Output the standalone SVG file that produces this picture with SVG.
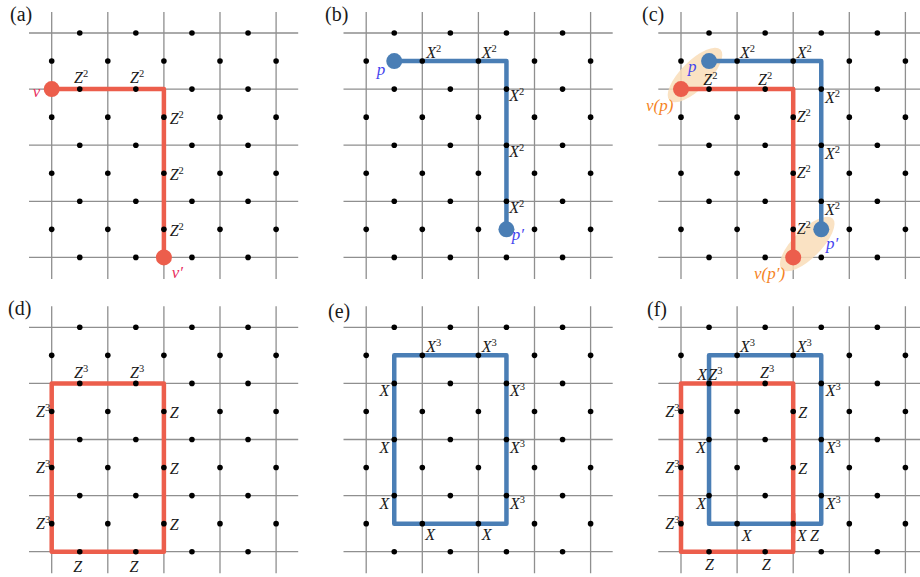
<svg xmlns="http://www.w3.org/2000/svg" width="920" height="577" viewBox="0 0 920 577" font-family="Liberation Serif, DejaVu Serif, serif">
<style>
.g{stroke:#8f8f8f;stroke-width:1.3;fill:none}
.r{stroke:#EC5E4C;stroke-width:4.5;fill:none;stroke-linejoin:round}
.b{stroke:#4A7EB5;stroke-width:4.5;fill:none;stroke-linejoin:round}
.rc{fill:#EC5E4C}
.bc{fill:#4A7EB5}
.dt{fill:#000}
.m{font-style:italic;font-size:16px;fill:#1a1a1a}
.s{font-style:normal;font-size:10.5px}
.pl{font-size:20px;fill:#1a1a1a}
.lv{font-style:italic;font-size:17px;fill:#E8305E}
.lp{font-style:italic;font-size:17px;fill:#4545EE}
.lo{font-style:italic;font-size:17px;fill:#F5841F}
.el{fill:#F9DDB8;opacity:0.85}
.e{text-anchor:end}
</style>
<defs>
<path id="grid" class="g" d="M-22.7 0H246.5M-22.7 56.1H246.5M-22.7 112.2H246.5M-22.7 168.3H246.5M-22.7 224.4H246.5M0 -21V246M56.1 -21V246M112.2 -21V246M168.3 -21V246M224.4 -21V246"/>
<g id="dots" class="dt">
<circle cx="28.05" cy="0" r="2.8"/><circle cx="84.15" cy="0" r="2.8"/><circle cx="140.25" cy="0" r="2.8"/><circle cx="196.35" cy="0" r="2.8"/>
<circle cx="28.05" cy="56.1" r="2.8"/><circle cx="84.15" cy="56.1" r="2.8"/><circle cx="140.25" cy="56.1" r="2.8"/><circle cx="196.35" cy="56.1" r="2.8"/>
<circle cx="28.05" cy="112.2" r="2.8"/><circle cx="84.15" cy="112.2" r="2.8"/><circle cx="140.25" cy="112.2" r="2.8"/><circle cx="196.35" cy="112.2" r="2.8"/>
<circle cx="28.05" cy="168.3" r="2.8"/><circle cx="84.15" cy="168.3" r="2.8"/><circle cx="140.25" cy="168.3" r="2.8"/><circle cx="196.35" cy="168.3" r="2.8"/>
<circle cx="28.05" cy="224.4" r="2.8"/><circle cx="84.15" cy="224.4" r="2.8"/><circle cx="140.25" cy="224.4" r="2.8"/><circle cx="196.35" cy="224.4" r="2.8"/>
<circle cx="0" cy="28.05" r="2.8"/><circle cx="56.1" cy="28.05" r="2.8"/><circle cx="112.2" cy="28.05" r="2.8"/><circle cx="168.3" cy="28.05" r="2.8"/><circle cx="224.4" cy="28.05" r="2.8"/>
<circle cx="0" cy="84.15" r="2.8"/><circle cx="56.1" cy="84.15" r="2.8"/><circle cx="112.2" cy="84.15" r="2.8"/><circle cx="168.3" cy="84.15" r="2.8"/><circle cx="224.4" cy="84.15" r="2.8"/>
<circle cx="0" cy="140.25" r="2.8"/><circle cx="56.1" cy="140.25" r="2.8"/><circle cx="112.2" cy="140.25" r="2.8"/><circle cx="168.3" cy="140.25" r="2.8"/><circle cx="224.4" cy="140.25" r="2.8"/>
<circle cx="0" cy="196.35" r="2.8"/><circle cx="56.1" cy="196.35" r="2.8"/><circle cx="112.2" cy="196.35" r="2.8"/><circle cx="168.3" cy="196.35" r="2.8"/><circle cx="224.4" cy="196.35" r="2.8"/>
</g>
</defs>

<g id="panel-labels">
<text class="pl" x="10" y="21">(a)</text>
<text class="pl" x="325" y="21">(b)</text>
<text class="pl" x="642" y="21">(c)</text>
<text class="pl" x="8" y="315">(d)</text>
<text class="pl" x="328" y="318">(e)</text>
<text class="pl" x="647" y="316">(f)</text>
</g>

<g id="panel-a" transform="translate(51.7,33)">
<use href="#grid"/>
<g id="conn-a"><path class="r" d="M0 56.1H112.2V224.4"/></g>
<use href="#dots"/>
<g id="node-v"><circle class="rc" cx="0" cy="56.1" r="8"/><text class="lv" x="-19" y="64">v</text></g>
<g id="node-v2"><circle class="rc" cx="112.2" cy="224.4" r="8"/><text class="lv" x="120" y="245">v′</text></g>
<g>
<text class="m" x="22.3" y="50">Z<tspan class="s" dy="-6">2</tspan></text>
<text class="m" x="78.4" y="50">Z<tspan class="s" dy="-6">2</tspan></text>
<text class="m" x="118" y="91">Z<tspan class="s" dy="-6">2</tspan></text>
<text class="m" x="118" y="147">Z<tspan class="s" dy="-6">2</tspan></text>
<text class="m" x="118" y="203">Z<tspan class="s" dy="-6">2</tspan></text>
</g>
</g>

<g id="panel-b" transform="translate(366.2,33)">
<use href="#grid"/>
<g id="conn-b"><path class="b" d="M28.05 28.05H140.25V196.35"/></g>
<use href="#dots"/>
<g id="node-p"><circle class="bc" cx="28.05" cy="28.05" r="8"/><text class="lp" x="10.5" y="42">p</text></g>
<g id="node-p2"><circle class="bc" cx="140.25" cy="196.35" r="8"/><text class="lp" x="145.5" y="207">p′</text></g>
<g>
<text class="m" x="60" y="24.5">X<tspan class="s" dy="-6">2</tspan></text>
<text class="m" x="115.5" y="24.5">X<tspan class="s" dy="-6">2</tspan></text>
<text class="m" x="143" y="68">X<tspan class="s" dy="-6">2</tspan></text>
<text class="m" x="143" y="124">X<tspan class="s" dy="-6">2</tspan></text>
<text class="m" x="143" y="180">X<tspan class="s" dy="-6">2</tspan></text>
</g>
</g>

<g id="panel-c" transform="translate(681,33)">
<use href="#grid"/>
<ellipse class="el" cx="14" cy="42" rx="36" ry="14" transform="rotate(-45 14 42)"/>
<ellipse class="el" cx="126.2" cy="211" rx="36" ry="14" transform="rotate(-45 126.2 211)"/>
<g id="conn-c">
<path class="r" d="M0 56.1H112.2V224.4"/>
<path class="b" d="M28.05 28.05H140.25V196.35"/>
</g>
<use href="#dots"/>
<g id="node-vp"><circle class="rc" cx="0" cy="56.1" r="8"/><text class="lo" x="-35" y="78">v(p)</text></g>
<g id="node-vp2"><circle class="rc" cx="112.2" cy="224.4" r="8"/><text class="lo" x="73" y="246">v(p′)</text></g>
<g id="node-pc"><circle class="bc" cx="28.05" cy="28.05" r="8"/><text class="lp" x="7" y="39">p</text></g>
<g id="node-pc2"><circle class="bc" cx="140.25" cy="196.35" r="8"/><text class="lp" x="145" y="216">p′</text></g>
<g>
<text class="m" x="22.3" y="52">Z<tspan class="s" dy="-6">2</tspan></text>
<text class="m" x="77" y="52">Z<tspan class="s" dy="-6">2</tspan></text>
<text class="m" x="115.7" y="89">Z<tspan class="s" dy="-6">2</tspan></text>
<text class="m" x="115.7" y="145">Z<tspan class="s" dy="-6">2</tspan></text>
<text class="m" x="115.7" y="201">Z<tspan class="s" dy="-6">2</tspan></text>
<text class="m" x="59" y="25">X<tspan class="s" dy="-6">2</tspan></text>
<text class="m" x="115.7" y="25">X<tspan class="s" dy="-6">2</tspan></text>
<text class="m" x="144" y="70">X<tspan class="s" dy="-6">2</tspan></text>
<text class="m" x="144" y="126">X<tspan class="s" dy="-6">2</tspan></text>
<text class="m" x="144" y="182">X<tspan class="s" dy="-6">2</tspan></text>
</g>
</g>

<g id="panel-d" transform="translate(51.7,327.3)">
<use href="#grid"/>
<g id="conn-d"><rect class="r" x="0" y="56.1" width="112.2" height="168.3"/></g>
<use href="#dots"/>
<g>
<text class="m" x="22.3" y="51">Z<tspan class="s" dy="-6">3</tspan></text>
<text class="m" x="78.4" y="51">Z<tspan class="s" dy="-6">3</tspan></text>
<text class="m e" x="-1.5" y="90">Z<tspan class="s" dy="-6">3</tspan></text>
<text class="m e" x="-1.5" y="146">Z<tspan class="s" dy="-6">3</tspan></text>
<text class="m e" x="-1.5" y="202">Z<tspan class="s" dy="-6">3</tspan></text>
<text class="m" x="118" y="91">Z</text>
<text class="m" x="118" y="147">Z</text>
<text class="m" x="118" y="203">Z</text>
<text class="m" x="21.6" y="245">Z</text>
<text class="m" x="77.7" y="245">Z</text>
</g>
</g>

<g id="panel-e" transform="translate(366.2,327.3)">
<use href="#grid"/>
<g id="conn-e"><rect class="b" x="28.05" y="28.05" width="112.2" height="168.3"/></g>
<use href="#dots"/>
<g>
<text class="m" x="60" y="24.4">X<tspan class="s" dy="-6">3</tspan></text>
<text class="m" x="115.5" y="24.4">X<tspan class="s" dy="-6">3</tspan></text>
<text class="m e" x="23" y="68.7">X</text>
<text class="m e" x="23" y="126">X</text>
<text class="m e" x="23" y="182">X</text>
<text class="m" x="143.8" y="68.7">X<tspan class="s" dy="-6">3</tspan></text>
<text class="m" x="143.8" y="126">X<tspan class="s" dy="-6">3</tspan></text>
<text class="m" x="143.8" y="182">X<tspan class="s" dy="-6">3</tspan></text>
<text class="m" x="59" y="212.7">X</text>
<text class="m" x="115.5" y="212.7">X</text>
</g>
</g>

<g id="panel-f" transform="translate(681,327.3)">
<use href="#grid"/>
<g id="conn-f">
<rect class="r" x="0" y="56.1" width="112.2" height="168.3"/>
<rect class="b" x="28.05" y="28.05" width="112.2" height="168.3"/>
<path class="r" d="M112.2 186V206"/>
</g>
<use href="#dots"/>
<g>
<text class="m" x="16.3" y="52.7">X<tspan x="27.3">Z</tspan><tspan class="s" dy="-6">3</tspan></text>
<text class="m" x="79" y="51">Z<tspan class="s" dy="-6">3</tspan></text>
<text class="m" x="59" y="24.4">X<tspan class="s" dy="-6">3</tspan></text>
<text class="m" x="115.7" y="24.4">X<tspan class="s" dy="-6">3</tspan></text>
<text class="m e" x="-1.5" y="90">Z<tspan class="s" dy="-6">3</tspan></text>
<text class="m e" x="-1.5" y="146">Z<tspan class="s" dy="-6">3</tspan></text>
<text class="m e" x="-1.5" y="202">Z<tspan class="s" dy="-6">3</tspan></text>
<text class="m e" x="25" y="126">X</text>
<text class="m e" x="25" y="182">X</text>
<text class="m" x="117.3" y="91">Z</text>
<text class="m" x="117.3" y="147">Z</text>
<text class="m" x="144.7" y="68.7">X<tspan class="s" dy="-6">3</tspan></text>
<text class="m" x="144.7" y="126">X<tspan class="s" dy="-6">3</tspan></text>
<text class="m" x="144.7" y="182">X<tspan class="s" dy="-6">3</tspan></text>
<text class="m" x="60.7" y="214">X</text>
<text class="m" x="115.7" y="214">X<tspan x="129">Z</tspan></text>
<text class="m" x="24" y="243">Z</text>
<text class="m" x="80.7" y="243">Z</text>
</g>
</g>
</svg>
